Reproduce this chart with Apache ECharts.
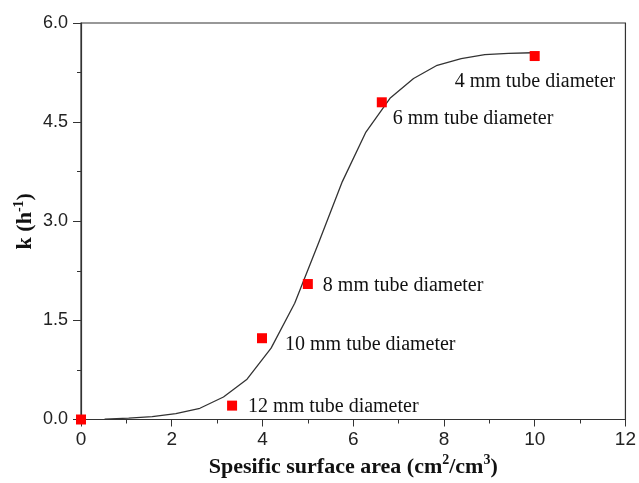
<!DOCTYPE html>
<html>
<head>
<meta charset="utf-8">
<script src="https://cdn.jsdelivr.net/npm/echarts@6/dist/echarts.min.js"></script>
<style>
html,body{margin:0;padding:0;background:#fff}
#chart{width:639px;height:483px}
</style>
</head>
<body>
<div id="chart"></div>
<script>
// fitted curve
var curveX = [0.52, 1.05, 1.57, 2.09, 2.62, 3.14, 3.66, 4.19, 4.71, 5.24, 5.76, 6.28, 6.81, 7.33, 7.85, 8.38, 8.90, 9.42, 9.95]
var curveY = [0.005, 0.02, 0.045, 0.09, 0.17, 0.34, 0.61, 1.08, 1.76, 2.68, 3.60, 4.35, 4.86, 5.16, 5.36, 5.46, 5.52, 5.54, 5.55]
// measured points
var pointX = [0, 3.33, 3.99, 5.0, 6.63, 10.0]
var pointY = [0, 0.21, 1.23, 2.05, 4.8, 5.5]
var pointLabels = ['', '12 mm tube diameter', '10 mm tube diameter', '8 mm tube diameter', '6 mm tube diameter', '4 mm tube diameter']
var xTicks = [0, 2, 4, 6, 8, 10, 12]
var yTicks = [0, 1.5, 3.0, 4.5, 6.0]

var labelOffsets = [[11, 1], [11, 1], [18, 7], [10, 2], [6, 16], [-85, 26]]

var myChart = echarts.init(document.getElementById('chart'))

var line = []
for (var i = 0; i < curveX.length; i++) {
    line.push([curveX[i], curveY[i]])
}
var pts = []
for (var j = 0; j < pointX.length; j++) {
    pts.push({
        value: [pointX[j], pointY[j]],
        label: {
            show: pointLabels[j] != '',
            formatter: pointLabels[j],
            position: 'right',
            distance: 0,
            offset: labelOffsets[j]
        }
    })
}

var nameRich = {
    b: {fontFamily: 'Liberation Serif', fontWeight: 'bold', fontSize: 22, color: '#111'},
    s: {fontFamily: 'Liberation Serif', fontWeight: 'bold', fontSize: 14, color: '#111', padding: [0, 0, 13, 0]}
}

var option = {
    animation: false,
    grid: {
        left: 81, right: 13, top: 23, bottom: 60,
        show: true, borderColor: '#333', borderWidth: 1.2
    },
    xAxis: {
        type: 'value',
        min: xTicks[0], max: xTicks[xTicks.length - 1], interval: 2,
        name: '{b|Spesific surface area (cm}{s|2}{b|/cm}{s|3}{b|)}',
        nameLocation: 'middle',
        nameGap: 34,
        nameMoveOverlap: false,
        nameTextStyle: {rich: nameRich},
        axisLine: {onZero: false, lineStyle: {color: '#333', width: 1.2}},
        axisTick: {inside: false, length: 7, lineStyle: {color: '#333'}},
        minorTick: {show: true, splitNumber: 2, length: 4, lineStyle: {color: '#333'}},
        axisLabel: {color: '#222', fontFamily: 'Liberation Sans', fontSize: 19, margin: 11},
        splitLine: {show: false}
    },
    yAxis: {
        type: 'value',
        min: yTicks[0], max: yTicks[yTicks.length - 1], interval: 1.5,
        name: '{b|k (h}{s|-1}{b|)}',
        nameLocation: 'middle',
        nameGap: 42,
        nameMoveOverlap: false,
        nameTextStyle: {rich: nameRich},
        axisLine: {onZero: false, lineStyle: {color: '#333', width: 1.2}},
        axisTick: {inside: false, length: 8, lineStyle: {color: '#333'}},
        minorTick: {show: true, splitNumber: 2, length: 4, lineStyle: {color: '#333'}},
        axisLabel: {
            color: '#222', fontFamily: 'Liberation Sans', fontSize: 18, margin: 13,
            formatter: function (v) { return v.toFixed(1) }
        },
        splitLine: {show: false}
    },
    series: [
        {
            type: 'line',
            data: line,
            symbol: 'none',
            lineStyle: {color: '#333', width: 1.3}
        },
        {
            type: 'scatter',
            data: pts,
            symbol: 'rect',
            symbolSize: 10,
            itemStyle: {color: '#ff0000', opacity: 1},
            label: {
                color: '#111',
                fontFamily: 'Liberation Serif',
                fontSize: 20
            },
            z: 3
        }
    ]
}
myChart.setOption(option)
</script>
</body>
</html>
